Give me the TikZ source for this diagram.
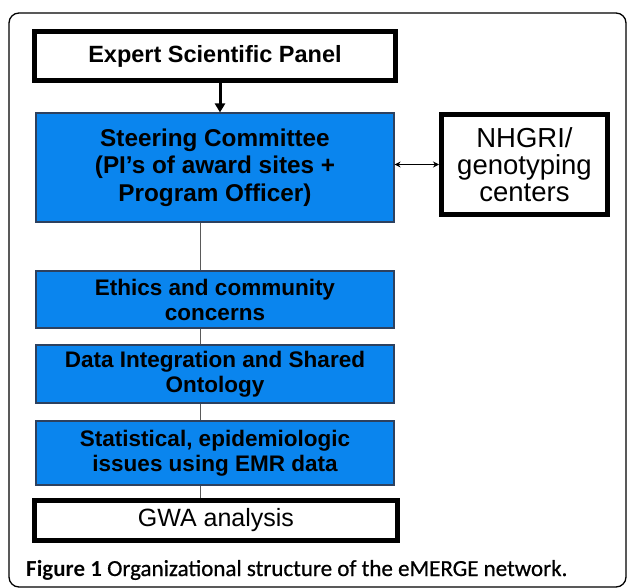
\documentclass[tikz,border=0pt]{standalone}
\usepackage{fontspec}
\setmainfont{Liberation Sans}
\newfontfamily\capfont{Carlito}
\newfontfamily\capmed[FakeBold=0.7]{Carlito}
\usetikzlibrary{arrows.meta}
\definecolor{boxblue}{RGB}{10,133,238}
\definecolor{boxedge}{RGB}{45,65,95}
\definecolor{linegray}{RGB}{90,90,90}
\begin{document}
\begin{tikzpicture}[x=1pt,y=-1pt,
  bluebox/.style={rectangle, fill=boxblue, draw=boxedge, line width=1.1pt,
    inner sep=0pt, minimum width=358pt, align=center,
    font=\fontsize{22.5}{25}\selectfont\bfseries},
  thickbox/.style={rectangle, fill=white, draw=black, line width=5pt,
    inner sep=0pt, align=center},
  conn/.style={draw=linegray, line width=1pt}
]
\useasboundingbox (0,0) rectangle (627,588);
\draw[line width=1.3pt, rounded corners=10pt] (9,13) rectangle (626,587);

\node[thickbox, minimum width=361pt, minimum height=49pt,
  font=\fontsize{23.5}{28}\selectfont\bfseries] (esp) at (215,56) {Expert Scientific Panel};
\node[bluebox, minimum height=109pt, font=\fontsize{24.3}{27.5}\selectfont\bfseries]
  (sc) at (215,167.5) {Steering Committee\\(PI's of award sites +\\Program Officer)};
\node[thickbox, minimum width=166pt, minimum height=100pt,
  font=\fontsize{27.5}{27}\selectfont] (nh) at (524.5,164.5) {NHGRI/\\genotyping\\centers};
\node[bluebox, minimum height=57pt] (eth) at (215,299.5) {Ethics and community\\concerns};
\node[bluebox, minimum height=58pt] (dat) at (215,374) {Data Integration and Shared\\Ontology};
\node[bluebox, minimum height=64pt] (sta) at (215,453) {Statistical, epidemiologic\\issues using EMR data};
\node[thickbox, minimum width=363pt, minimum height=40pt,
  font=\fontsize{25}{28}\selectfont] (gwa) at (216,520.5) {GWA analysis};

\coordinate (ax) at (220,0);
\coordinate (lx) at (200,0);
\draw[line width=3pt, -{Triangle[width=10pt,length=9pt]}] (esp.south -| ax) -- (sc.north -| ax);
\draw[line width=0.9pt, {Stealth[length=6pt,width=6pt]}-{Stealth[length=6pt,width=6pt]}]
  (sc.east |- nh.west) -- (nh.west);
\draw[conn] (sc.south -| lx) -- (eth.north -| lx);
\draw[conn] (eth.south -| lx) -- (dat.north -| lx);
\draw[conn] (dat.south -| lx) -- (sta.north -| lx);
\draw[conn] (sta.south -| lx) -- (gwa.north -| lx);

\node[anchor=base west, inner sep=0pt, font=\capmed\fontsize{23}{26}\selectfont]
  (cap) at (26,576) {{\capfont\bfseries Figure 1} Organizational structure of the eMERGE network.};
\end{tikzpicture}
\end{document}
